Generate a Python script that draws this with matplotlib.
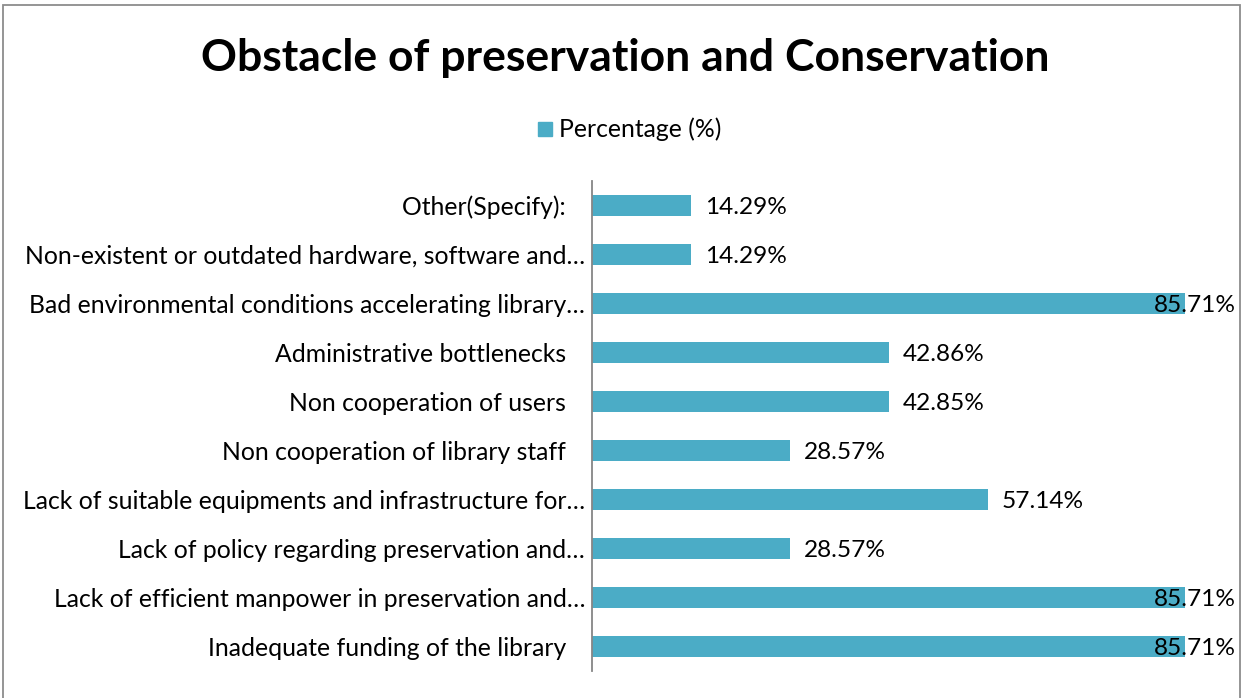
import matplotlib
matplotlib.use("Agg")
import matplotlib.pyplot as plt
from matplotlib.patches import Rectangle

categories = [
    "Inadequate funding of the library   ",
    "Lack of efficient manpower in preservation and…",
    "Lack of policy regarding preservation and…",
    "Lack of suitable equipments and infrastructure for…",
    "Non cooperation of library staff   ",
    "Non cooperation of users   ",
    "Administrative bottlenecks   ",
    "Bad environmental conditions accelerating library…",
    "Non-existent or outdated hardware, software and…",
    "Other(Specify):   ",
]
values = [85.71, 85.71, 28.57, 57.14, 28.57, 42.85, 42.86, 85.71, 14.29, 14.29]
labels = ["85.71%", "85.71%", "28.57%", "57.14%", "28.57%", "42.85%", "42.86%", "85.71%", "14.29%", "14.29%"]
series_name = "Percentage (%)"
title = "Obstacle of preservation and Conservation"

W, H = 1244, 698
fig = plt.figure(figsize=(W / 100, H / 100), dpi=100)
plt.rcParams['font.family'] = ['Lato', 'DejaVu Sans']

bar_color = "#4BACC6"
fs = 17.8

# axes in pixel coordinates
left, right, top, bottom = 592, 1215, 181, 671
ax = fig.add_axes([left / W, 1 - bottom / H, (right - left) / W, (bottom - top) / H])

y = list(range(len(categories)))
ax.barh(y, values, height=0.42, color=bar_color)
ax.set_xlim(0, 90)
ax.set_ylim(-0.5, len(categories) - 0.5)
ax.set_yticks(y)
ax.set_yticklabels(categories, fontsize=fs)
ax.tick_params(axis='y', length=0, pad=5)
ax.set_xticks([])
for s in ["top", "right", "bottom"]:
    ax.spines[s].set_visible(False)
ax.spines["left"].set_color("#868686")
ax.spines["left"].set_linewidth(1.3)
ax.patch.set_alpha(0)

# data labels
fig.canvas.draw()
renderer = fig.canvas.get_renderer()
limit_px = 1236
for yi, v, lab in zip(y, values, labels):
    t = ax.annotate(lab, xy=(v, yi), xytext=(14, 0), textcoords="offset pixels",
                    ha="left", va="center_baseline", fontsize=fs * 0.985, color="#000000")
    bb = t.get_window_extent(renderer)
    if bb.x1 > limit_px:
        t.remove()
        xd = ax.transData.transform((v, yi))
        fig.text(limit_px / W, xd[1] / H, lab, ha="right", va="center_baseline",
                 fontsize=fs * 0.985, color="#000000", zorder=5)

# title
fig.text(625 / W, 1 - 58 / H, title, ha="center", va="center",
         fontsize=32, fontweight="bold", color="#000000")

# legend
fig.patches.append(Rectangle((538 / W, 1 - 136 / H), 14 / W, 14 / H,
                             transform=fig.transFigure, color=bar_color, figure=fig))
fig.text(559 / W, 1 - 129 / H, series_name, ha="left", va="center",
         fontsize=fs, color="#000000")

# chart border
fig.patches.append(Rectangle((3 / W, -0.01), (1240 - 3) / W, 1 - 5 / H + 0.01,
                             transform=fig.transFigure, fill=False,
                             edgecolor="#8C8C8C", linewidth=1.3, figure=fig))

fig.savefig("out.png", dpi=100)
